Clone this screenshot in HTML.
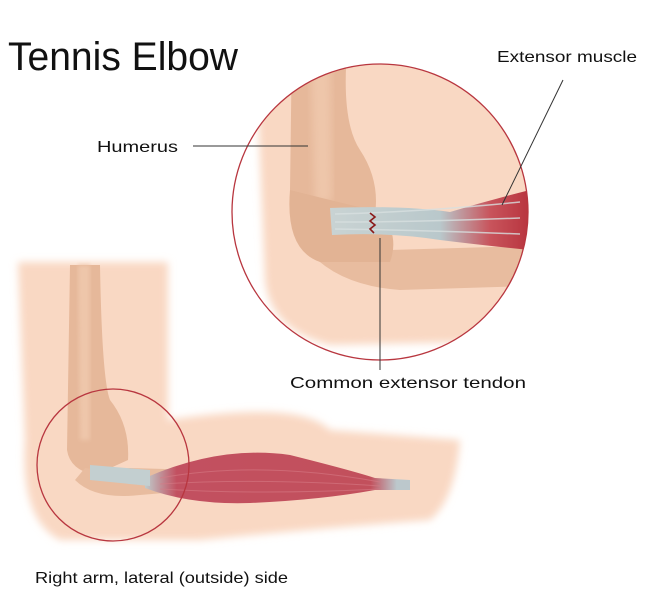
<!DOCTYPE html>
<html><head><style>
body{margin:0;background:#fff;}
svg{display:block}
text{font-family:"Liberation Sans",sans-serif;fill:#111}
</style></head><body>
<svg width="650" height="600" viewBox="0 0 650 600" xmlns="http://www.w3.org/2000/svg">
<defs>
<filter id="b4"><feGaussianBlur stdDeviation="4"/></filter>
<filter id="b2"><feGaussianBlur stdDeviation="2"/></filter>
<clipPath id="bc"><circle cx="380" cy="212" r="148"/></clipPath>
<linearGradient id="tend" x1="0" x2="1"><stop offset="0" stop-color="#c9d3d3"/><stop offset="0.55" stop-color="#b9c8cb"/><stop offset="0.8" stop-color="#c8545c"/><stop offset="1" stop-color="#b8343e"/></linearGradient>
<linearGradient id="mus" x1="0" x2="1"><stop offset="0" stop-color="#bfcccc"/><stop offset="0.12" stop-color="#c25060"/><stop offset="0.85" stop-color="#c2505c"/><stop offset="0.95" stop-color="#bcc8cc"/></linearGradient>
</defs>

<!-- big circle -->
<circle cx="380" cy="212" r="148" fill="#fff"/>
<g clip-path="url(#bc)">
  <rect x="200" y="50" width="360" height="340" fill="#fff"/>
  <path d="M255 40 L560 40 L560 340 L330 345 Q270 330 265 280 Z" fill="#f9d8c3" filter="url(#b4)"/>
  <!-- humerus -->
  <path d="M292 40 L348 40 Q340 120 360 150 Q380 180 375 215 L320 220 Q292 210 290 190 Z" fill="#e6b89a"/>
  <path d="M310 40 L330 40 L332 200 L315 205 Z" fill="#eec6aa" filter="url(#b4)"/>
  <!-- forearm bone -->
  <path d="M300 240 Q330 285 400 290 L560 285 L560 245 L390 250 Q350 245 330 232 Z" fill="#e8bc9f"/>
  <path d="M290 190 Q285 250 320 262 L390 262 Q400 235 380 212 L330 200 Z" fill="#e2b394"/>
  <!-- tendon -->
  <path d="M330 208 Q400 205 450 212 Q490 200 530 190 L530 250 Q480 245 440 240 Q390 232 332 235 Z" fill="url(#tend)"/>
  <g stroke="#d8e0e0" stroke-width="1.5" fill="none" opacity="0.8">
    <path d="M335 214 Q420 212 520 202"/><path d="M335 222 Q420 222 520 218"/><path d="M335 229 Q420 230 520 234"/>
  </g>
  <path d="M370 213 l5 4 -5 4 5 4 -5 4 4 4" stroke="#8b1a1a" stroke-width="1.6" fill="none"/>
</g>
<circle cx="380" cy="212" r="148" fill="none" stroke="#b8363f" stroke-width="1.3"/>

<!-- lower arm -->
<path d="M18 262 L168 262 L168 420 Q300 400 330 430 L460 440 Q455 500 430 520 Q300 530 200 540 L60 540 Q20 520 25 440 Z" fill="#f9d8c3" filter="url(#b4)"/>
<path d="M70 265 L100 265 Q102 380 110 400 Q130 425 128 460 L95 475 Q70 470 67 450 Z" fill="#e6b89a"/>
<path d="M78 265 L90 265 L90 440 L80 440 Z" fill="#eec6aa" filter="url(#b2)"/>
<path d="M75 480 Q95 500 140 495 L200 490 L200 470 L130 468 Q100 470 85 468 Z" fill="#e8bc9f"/>
<path d="M145 478 Q220 445 290 455 Q350 470 375 478 L410 480 L410 490 L375 490 Q320 500 250 503 Q190 505 145 488 Z" fill="url(#mus)"/>
<path d="M90 465 L150 470 L150 486 L90 480 Z" fill="#c3cfd0"/>
<g stroke="#d77a85" stroke-width="1" fill="none" opacity="0.6"><path d="M160 478 Q260 460 380 482"/><path d="M160 484 Q260 478 380 486"/><path d="M160 489 Q260 495 380 489"/></g>
<circle cx="113" cy="465" r="76" fill="none" stroke="#b8363f" stroke-width="1.3"/>

<!-- labels -->
<text x="8" y="70" font-size="40" textLength="230" lengthAdjust="spacingAndGlyphs">Tennis Elbow</text>
<text x="497" y="62" font-size="16" textLength="140" lengthAdjust="spacingAndGlyphs">Extensor muscle</text>
<text x="97" y="152" font-size="16" textLength="81" lengthAdjust="spacingAndGlyphs">Humerus</text>
<text x="290" y="388" font-size="16" textLength="236" lengthAdjust="spacingAndGlyphs">Common extensor tendon</text>
<text x="35" y="583" font-size="16" textLength="253" lengthAdjust="spacingAndGlyphs">Right arm, lateral (outside) side</text>
<g stroke="#333" stroke-width="1">
<line x1="193" y1="146" x2="308" y2="146"/>
<line x1="563" y1="80" x2="502" y2="205"/>
<line x1="380" y1="238" x2="380" y2="370"/>
</g>
</svg>
</body></html>
